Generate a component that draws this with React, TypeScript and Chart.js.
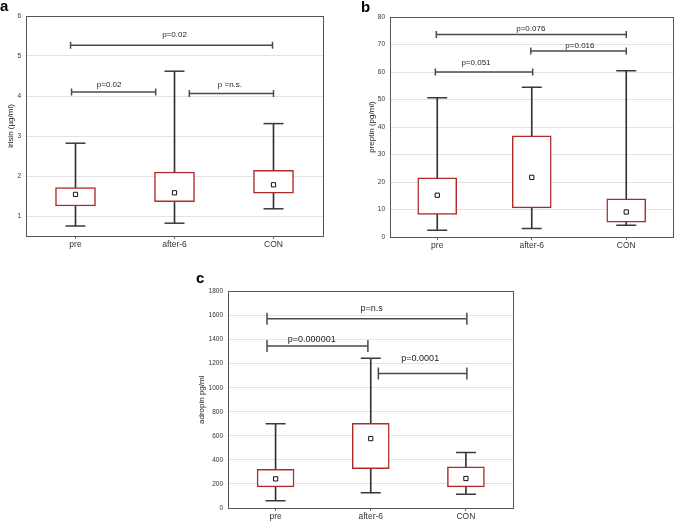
import React, { useEffect, useRef } from 'react';
import { Chart, registerables } from 'chart.js';

Chart.register(...registerables);
Chart.defaults.font.family = "'Liberation Sans', Arial, sans-serif";

const categories = ['pre', 'after-6', 'CON'];

// Panel a: irisin (µg/ml)
const irisinMin = [0.75, 0.82, 1.18];
const irisinQ1 = [1.25, 1.36, 1.57];
const irisinMean = [1.54, 1.58, 1.78];
const irisinQ3 = [1.71, 2.1, 2.14];
const irisinMax = [2.82, 4.62, 3.31];
const irisinTicks = [1, 2, 3, 4, 5, 6];
const irisinBracketFrom = [-0.05, -0.04, 1.15];
const irisinBracketTo = [1.99, 0.81, 2.0];
const irisinBracketLevel = [5.27, 4.1, 4.06];
const irisinBracketText = ['p=0.02', 'p=0.02', 'p =n.s.'];
const irisinTextX = [1.0, 0.34, 1.56];
const irisinTextLevel = [5.54, 4.29, 4.29];

// Panel b: preptin (pg/ml)
const preptinMin = [2.5, 3.1, 4.3];
const preptinQ1 = [8.2, 10.6, 5.4];
const preptinMean = [15.2, 21.7, 9.1];
const preptinQ3 = [21.5, 36.8, 13.9];
const preptinMax = [50.6, 54.5, 60.5];
const preptinTicks = [0, 10, 20, 30, 40, 50, 60, 70, 80];
const preptinBracketFrom = [-0.01, 0.99, -0.02];
const preptinBracketTo = [2.0, 2.0, 1.01];
const preptinBracketLevel = [73.6, 67.6, 60.0];
const preptinBracketText = ['p=0.076', 'p=0.016', 'p=0.051'];
const preptinTextX = [0.99, 1.51, 0.41];
const preptinTextLevel = [75.6, 69.5, 63.3];

// Panel c: adropin pg/ml
const adropinMin = [60, 126, 115];
const adropinQ1 = [176, 327, 176];
const adropinMean = [242, 577, 245];
const adropinQ3 = [321, 703, 343];
const adropinMax = [700, 1245, 462];
const adropinTicks = [0, 200, 400, 600, 800, 1000, 1200, 1400, 1600, 1800];
const adropinBracketFrom = [-0.09, -0.09, 1.08];
const adropinBracketTo = [2.01, 0.97, 2.01];
const adropinBracketLevel = [1574, 1346, 1118];
const adropinBracketText = ['p=n.s', 'p=0.000001', 'p=0.0001'];
const adropinTextX = [1.01, 0.38, 1.52];
const adropinTextLevel = [1657, 1404, 1239];

type PanelSpec = {
  title: string;
  min: number[]; q1: number[]; mean: number[]; q3: number[]; max: number[];
  ticks: number[]; yMin: number; yMax: number;
  bFrom: number[]; bTo: number[]; bLevel: number[]; bText: string[]; tX: number[]; tLevel: number[];
  left: number; top: number; width: number; height: number;
  padTop: number; padRight: number; yAxisWidth: number; xAxisHeight: number; titlePad: number;
  capHalf: number; textSize: number; boxWidth: number;
};

const panels: PanelSpec[] = [
  {
    title: 'irisin (µg/ml)',
    min: irisinMin, q1: irisinQ1, mean: irisinMean, q3: irisinQ3, max: irisinMax,
    ticks: irisinTicks, yMin: 0.5, yMax: 6,
    bFrom: irisinBracketFrom, bTo: irisinBracketTo, bLevel: irisinBracketLevel, bText: irisinBracketText,
    tX: irisinTextX, tLevel: irisinTextLevel,
    left: 0, top: 0, width: 340, height: 250,
    padTop: 16, padRight: 17, yAxisWidth: 26, xAxisHeight: 14, titlePad: 6,
    capHalf: 3.5, textSize: 8, boxWidth: 40,
  },
  {
    title: 'preptin (pg/ml)',
    min: preptinMin, q1: preptinQ1, mean: preptinMean, q3: preptinQ3, max: preptinMax,
    ticks: preptinTicks, yMin: 0, yMax: 80,
    bFrom: preptinBracketFrom, bTo: preptinBracketTo, bLevel: preptinBracketLevel, bText: preptinBracketText,
    tX: preptinTextX, tLevel: preptinTextLevel,
    left: 355, top: 0, width: 330, height: 250,
    padTop: 17, padRight: 2, yAxisWidth: 35, xAxisHeight: 13, titlePad: 12,
    capHalf: 3.5, textSize: 8, boxWidth: 39,
  },
  {
    title: 'adropin pg/ml',
    min: adropinMin, q1: adropinQ1, mean: adropinMean, q3: adropinQ3, max: adropinMax,
    ticks: adropinTicks, yMin: 0, yMax: 1800,
    bFrom: adropinBracketFrom, bTo: adropinBracketTo, bLevel: adropinBracketLevel, bText: adropinBracketText,
    tX: adropinTextX, tLevel: adropinTextLevel,
    left: 185, top: 280, width: 340, height: 241,
    padTop: 9, padRight: 11, yAxisWidth: 43, xAxisHeight: 13, titlePad: 12,
    capHalf: 6, textSize: 9, boxWidth: 37,
  },
];

const AXIS = '#555';
const DARK = '#333';
const RED = '#b02a2a';

function BoxPanel({ p }: { p: PanelSpec }) {
  const ref = useRef<HTMLCanvasElement | null>(null);
  useEffect(() => {
    if (!ref.current) return;
    const idx = categories.map((_, i) => i);
    const datasets: any[] = [];
    p.bFrom.forEach((f, k) => {
      datasets.push({
        type: 'line',
        order: 0,
        data: [{ x: f, y: p.bLevel[k] }, { x: p.bTo[k], y: p.bLevel[k] }],
        borderColor: '#4a4a4a',
        borderWidth: 1.5,
        pointStyle: 'line',
        pointRotation: 90,
        pointRadius: p.capHalf,
        pointBorderColor: '#4a4a4a',
        pointBorderWidth: 1.5,
        fill: false,
        tension: 0,
      });
    });
    datasets.push({
      type: 'scatter',
      order: 1,
      data: idx.map((i) => ({ x: i, y: p.mean[i] })),
      pointStyle: 'rect',
      pointRadius: 3,
      pointBackgroundColor: '#fff',
      pointBorderColor: '#111',
      pointBorderWidth: 1,
    });
    datasets.push({
      type: 'scatter',
      order: 2,
      data: idx.flatMap((i) => [{ x: i, y: p.min[i] }, { x: i, y: p.max[i] }]),
      pointStyle: 'line',
      pointRadius: 10,
      pointBorderColor: '#3a3a3a',
      pointBorderWidth: 1.5,
    });
    datasets.push({
      type: 'bar',
      order: 3,
      data: idx.map((i) => ({ x: i, y: [p.q1[i], p.q3[i]] })),
      backgroundColor: '#fff',
      borderColor: RED,
      borderWidth: 1.5,
      borderSkipped: false,
      barThickness: p.boxWidth,
      grouped: false,
    });
    datasets.push({
      type: 'bar',
      order: 4,
      data: idx.map((i) => ({ x: i, y: [p.min[i], p.max[i]] })),
      backgroundColor: DARK,
      borderWidth: 0,
      barThickness: 1,
      grouped: false,
    });

    const textPlugin = {
      id: 'bracketText',
      afterDatasetsDraw(chart: any) {
        const ctx = chart.ctx;
        const xs = chart.scales.x;
        const ys = chart.scales.y;
        ctx.save();
        ctx.font = `${p.textSize}px 'Liberation Sans', Arial, sans-serif`;
        ctx.fillStyle = '#222';
        ctx.textAlign = 'center';
        ctx.textBaseline = 'middle';
        p.bText.forEach((t, k) => {
          ctx.fillText(t, xs.getPixelForValue(p.tX[k]), ys.getPixelForValue(p.tLevel[k]));
        });
        ctx.restore();
      },
    };

    const chart = new Chart(ref.current, {
      type: 'bar',
      data: { datasets },
      plugins: [textPlugin],
      options: {
        animation: false,
        responsive: false,
        events: [],
        layout: { padding: { top: p.padTop, right: p.padRight, left: 0, bottom: 0 } },
        plugins: { legend: { display: false }, tooltip: { enabled: false } },
        scales: {
          x: {
            type: 'linear',
            min: -0.5,
            max: 2.5,
            offset: false,
            afterBuildTicks: (s: any) => { s.ticks = idx.map((v) => ({ value: v })); },
            afterFit: (s: any) => { s.height = p.xAxisHeight; },
            ticks: {
              callback: (v: any) => categories[v] ?? '',
              font: { size: 8.5 },
              color: '#333',
              padding: 1,
              maxRotation: 0,
              autoSkip: false,
            },
            grid: { display: true, drawOnChartArea: false, drawTicks: true, tickLength: 3, color: '#666', offset: false },
            border: { display: true, color: AXIS, width: 1 },
          },
          y: {
            type: 'linear',
            min: p.yMin,
            max: p.yMax,
            afterBuildTicks: (s: any) => { s.ticks = p.ticks.map((v) => ({ value: v })); },
            afterFit: (s: any) => { s.width = p.yAxisWidth; },
            ticks: { callback: (v: any) => String(v), font: { size: 6.5 }, color: '#333', padding: 5 },
            grid: { color: '#e3e3e3', drawTicks: false },
            border: { display: true, color: AXIS, width: 1 },
            title: {
              display: true,
              text: p.title,
              font: { size: 8 },
              color: '#222',
              padding: { top: p.titlePad, bottom: 0 },
            },
          },
          x2: {
            type: 'linear',
            position: 'top',
            min: -0.5,
            max: 2.5,
            afterBuildTicks: (s: any) => { s.ticks = idx.map((v) => ({ value: v })); },
            afterFit: (s: any) => { s.height = 0; },
            ticks: { display: false },
            grid: { display: true, drawOnChartArea: false, drawTicks: false },
            border: { display: true, color: AXIS, width: 1 },
          },
          y2: {
            type: 'linear',
            position: 'right',
            min: p.yMin,
            max: p.yMax,
            afterBuildTicks: (s: any) => { s.ticks = p.ticks.map((v) => ({ value: v })); },
            afterFit: (s: any) => { s.width = 0; },
            ticks: { display: false },
            grid: { display: true, drawOnChartArea: false, drawTicks: false },
            border: { display: true, color: AXIS, width: 1 },
          },
        },
      } as any,
    });
    return () => chart.destroy();
  }, [p]);

  return (
    <canvas
      ref={ref}
      width={p.width}
      height={p.height}
      style={{ position: 'absolute', left: p.left, top: p.top, width: p.width, height: p.height }}
    />
  );
}

const labelStyle: React.CSSProperties = {
  position: 'absolute',
  font: "bold 15px 'Liberation Sans', Arial, sans-serif",
  lineHeight: '15px',
  color: '#000',
};

export default function App() {
  return (
    <div
      style={{
        position: 'fixed',
        left: 0,
        top: 0,
        width: 685,
        height: 521,
        background: '#fff',
        overflow: 'hidden',
      }}
    >
      {panels.map((p, i) => (
        <BoxPanel key={i} p={p} />
      ))}
      <div style={{ ...labelStyle, left: 0, top: -2 }}>a</div>
      <div style={{ ...labelStyle, left: 361, top: -1 }}>b</div>
      <div style={{ ...labelStyle, left: 196, top: 270 }}>c</div>
    </div>
  );
}
